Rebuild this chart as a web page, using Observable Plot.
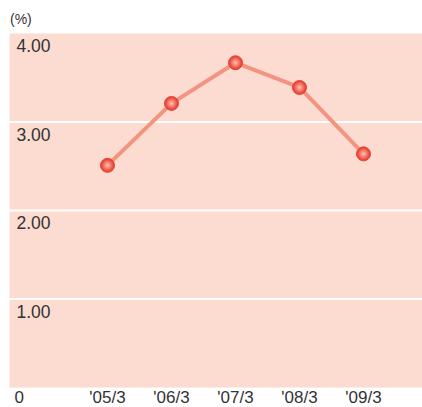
<!DOCTYPE html>
<html>
<head>
<meta charset="utf-8">
<script src="https://cdn.jsdelivr.net/npm/d3@7"></script>
<script src="https://cdn.jsdelivr.net/npm/@observablehq/plot@0.6"></script>
<style>
  html, body { margin: 0; padding: 0; background: #fff; }
  #chart { position: relative; width: 422px; height: 407px; font-family: "Liberation Sans", Arial, sans-serif; }
  #unit { position: absolute; left: 10px; top: 11px; font-size: 14px; color: #333; }
  #chart svg { position: absolute; left: 0; top: 0; }
</style>
</head>
<body>
<div id="chart"><div id="unit">(%)</div></div>
<script>
const periods = ["'05/3", "'06/3", "'07/3", "'08/3", "'09/3"];
const rates = [2.51, 3.21, 3.67, 3.39, 2.64];
const yTicks = [0, 1, 2, 3, 4];
const yTickLabels = ["0", "1.00", "2.00", "3.00", "4.00"];

const data = periods.map((p, i) => ({period: p, rate: rates[i]}));
const tickData = yTicks.map((v, i) => ({v, label: yTickLabels[i]}));

const plot = Plot.plot({
  width: 422,
  height: 407,
  marginTop: 33,
  marginBottom: 20,
  marginLeft: 9,
  marginRight: 0,
  style: {fontFamily: "'Liberation Sans', Arial, sans-serif", background: "transparent", overflow: "visible"},
  x: {type: "point", domain: periods, range: [106.7, 364], padding: 0, label: null},
  y: {domain: [0, 4], label: null},
  marks: [
    Plot.frame({fill: "#fcdcd1", stroke: null}),
    Plot.ruleY(yTicks.filter(v => v > 0 && v < 4), {stroke: "#ffffff", strokeWidth: 2}),
    Plot.text(tickData.filter(d => d.v > 0), {y: "v", text: "label", frameAnchor: "left", dx: 7, dy: 13, textAnchor: "start", fontSize: 17.5, fill: "#333"}),
    Plot.text(tickData.filter(d => d.v === 0), {y: "v", text: "label", frameAnchor: "left", dx: 5, dy: 10, textAnchor: "start", fontSize: 17, fill: "#333"}),
    Plot.axisX({tickSize: 0, tickPadding: 3, fontSize: 17, color: "#333"}),
    Plot.axisY({ticks: [], tickSize: 0, label: null}),
    Plot.line(data, {x: "period", y: "rate", stroke: "#f39480", strokeWidth: 4}),
    Plot.dot(data, {x: "period", y: "rate", r: 7, fill: "url(#dotgrad)", stroke: "#e8453a", strokeWidth: 1})
  ]
});

const defs = document.createElementNS("http://www.w3.org/2000/svg", "defs");
defs.innerHTML = `<radialGradient id="dotgrad" cx="50%" cy="50%" r="50%">
  <stop offset="0%" stop-color="#fbc2b0"/>
  <stop offset="55%" stop-color="#f27260"/>
  <stop offset="100%" stop-color="#e5302c"/>
</radialGradient>`;
plot.insertBefore(defs, plot.firstChild);
document.getElementById("chart").appendChild(plot);
</script>
</body>
</html>
